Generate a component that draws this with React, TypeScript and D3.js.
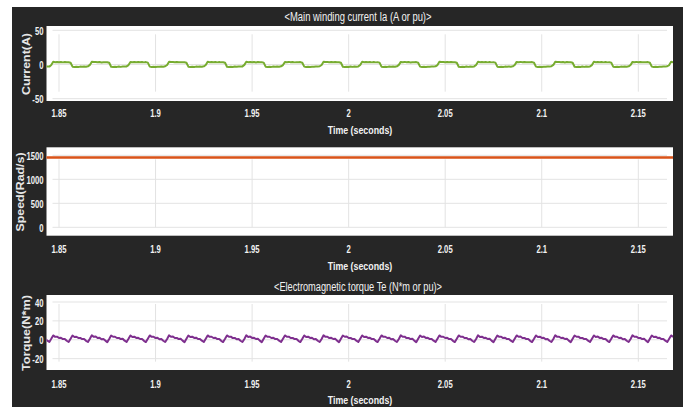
import React from "react";
import * as d3 from "d3";

// Simulation time base shared by the sampled traces (seconds)
const T_START = 1.843;
const T_STEP = 0.001;

const timeTicks = [1.85, 1.9, 1.95, 2, 2.05, 2.1, 2.15];
const timeTickLabels = ["1.85", "1.9", "1.95", "2", "2.05", "2.1", "2.15"];

// Main winding current Ia (A), 1 ms samples
const currentA: number[] = [
  -3.0, -2.8, -3.1,
  -0.8, 3.9, 3.4, 3.7, 3.3, 3.6, 3.1, 3.5, 3.2, 3.4, 2.6, -3.2, -3.7, -3.3, -3.6, -3.1, -3.4, -2.9, -3.2, -2.7,
  -0.6, 4.0, 3.5, 3.6, 3.2, 3.7, 3.0, 3.4, 3.3, 3.3, 2.5, -3.3, -3.6, -3.2, -3.5, -3.0, -3.5, -3.0, -3.1, -2.8,
  -0.9, 3.8, 3.3, 3.8, 3.4, 3.5, 3.2, 3.6, 3.1, 3.5, 2.7, -3.1, -3.8, -3.4, -3.6, -3.2, -3.3, -2.8, -3.2, -2.6,
  -0.7, 3.9, 3.5, 3.7, 3.2, 3.6, 3.2, 3.4, 3.3, 3.4, 2.6, -3.2, -3.6, -3.3, -3.7, -3.1, -3.4, -3.0, -3.2, -2.7,
  -0.8, 4.0, 3.4, 3.6, 3.3, 3.7, 3.1, 3.5, 3.1, 3.3, 2.5, -3.3, -3.7, -3.2, -3.6, -3.0, -3.4, -2.9, -3.1, -2.8,
  -0.6, 3.9, 3.3, 3.7, 3.4, 3.6, 3.0, 3.6, 3.2, 3.4, 2.7, -3.2, -3.8, -3.3, -3.5, -3.1, -3.3, -2.9, -3.2, -2.7,
  -0.9, 3.8, 3.4, 3.8, 3.2, 3.5, 3.1, 3.4, 3.3, 3.5, 2.6, -3.1, -3.7, -3.4, -3.6, -3.2, -3.4, -3.0, -3.1, -2.6,
  -0.7, 4.0, 3.5, 3.6, 3.3, 3.7, 3.2, 3.5, 3.2, 3.3, 2.5, -3.3, -3.6, -3.2, -3.7, -3.0, -3.5, -2.8, -3.2, -2.8,
  -0.8, 3.9, 3.3, 3.7, 3.4, 3.6, 3.1, 3.6, 3.1, 3.4, 2.7, -3.2, -3.7, -3.3, -3.5, -3.1, -3.3, -2.9, -3.3, -2.7,
  -0.6, 3.8, 3.4, 3.8, 3.2, 3.5, 3.0, 3.4, 3.3, 3.5, 2.6, -3.1, -3.8, -3.4, -3.6, -3.2, -3.4, -3.0, -3.1, -2.6,
  -0.9, 4.0, 3.5, 3.6, 3.3, 3.7, 3.2, 3.5, 3.2, 3.3, 2.5, -3.3, -3.6, -3.2, -3.6, -3.0, -3.5, -2.9, -3.2, -2.8,
  -0.7, 3.9, 3.4, 3.7, 3.4, 3.6, 3.1, 3.6, 3.1, 3.4, 2.7, -3.2, -3.7, -3.3, -3.7, -3.1, -3.3, -2.8, -3.2, -2.7,
  -0.8, 3.8, 3.3, 3.8, 3.2, 3.5, 3.2, 3.4, 3.3, 3.5, 2.6, -3.1, -3.8, -3.4, -3.5, -3.2, -3.4, -3.0, -3.1, -2.6,
  -0.6, 4.0, 3.5, 3.6, 3.3, 3.7, 3.0, 3.5, 3.2, 3.3, 2.5, -3.3, -3.6, -3.2, -3.6, -3.0, -3.5, -2.9, -3.3, -2.8,
  -0.9, 3.9, 3.4, 3.7, 3.4, 3.6, 3.1, 3.6, 3.1, 3.4, 2.7, -3.2, -3.7, -3.3, -3.7, -3.1, -3.3, -2.9, -3.2, -2.7,
  -0.7, 3.8, 3.3, 3.8, 3.2, 3.5, 3.2, 3.4, 3.3, 3.5, 2.6, -3.1, -3.8, -3.4, -3.5, -3.2, -3.4, -2.8, -3.1, -2.6,
  -0.8, 3.9, 3.4,
];

// Rotor speed (Rad/s), 10 ms samples
const SPEED_STEP = 0.01;
const speedRad: number[] = [
  1455, 1456, 1455, 1454, 1455, 1456, 1455, 1455, 1454, 1455, 1456,
  1455, 1455, 1454, 1455, 1456, 1455, 1454, 1455, 1455, 1456, 1455,
  1454, 1455, 1456, 1455, 1455, 1454, 1455, 1456, 1455, 1455, 1455, 1454,
];

// Electromagnetic torque Te (N*m), 1 ms samples
const torqueNm: number[] = [
  0.6, -0.9, -2.3, 1.0,
  4.6, 3.1, 3.3, 1.9, 2.1, 0.7, 0.9, -1.0, -2.4, 1.0,
  4.5, 3.0, 3.2, 2.0, 2.0, 0.8, 0.8, -1.1, -2.3, 1.1,
  4.7, 3.1, 3.4, 1.8, 2.2, 0.6, 0.9, -0.9, -2.5, 0.9,
  4.5, 3.2, 3.2, 1.9, 2.0, 0.7, 1.0, -1.0, -2.3, 1.0,
  4.6, 3.0, 3.3, 2.0, 2.1, 0.8, 0.8, -1.1, -2.4, 1.1,
  4.6, 3.1, 3.2, 1.8, 2.1, 0.6, 0.9, -1.0, -2.4, 0.9,
  4.7, 3.2, 3.4, 1.9, 2.0, 0.7, 1.0, -0.9, -2.5, 1.0,
  4.5, 3.0, 3.3, 2.0, 2.2, 0.8, 0.8, -1.0, -2.3, 1.1,
  4.6, 3.1, 3.2, 1.9, 2.1, 0.7, 0.9, -1.1, -2.4, 1.0,
  4.6, 3.2, 3.3, 1.8, 2.0, 0.6, 0.9, -1.0, -2.4, 0.9,
  4.7, 3.0, 3.4, 2.0, 2.1, 0.8, 1.0, -0.9, -2.5, 1.0,
  4.5, 3.1, 3.2, 1.9, 2.2, 0.7, 0.8, -1.0, -2.3, 1.1,
  4.6, 3.2, 3.3, 1.9, 2.0, 0.7, 0.9, -1.1, -2.4, 1.0,
  4.6, 3.0, 3.3, 2.0, 2.1, 0.6, 0.9, -1.0, -2.4, 0.9,
  4.7, 3.1, 3.2, 1.8, 2.1, 0.8, 1.0, -0.9, -2.5, 1.0,
  4.5, 3.2, 3.4, 1.9, 2.0, 0.7, 0.8, -1.0, -2.3, 1.1,
  4.6, 3.0, 3.3, 2.0, 2.2, 0.7, 0.9, -1.1, -2.4, 1.0,
  4.6, 3.1, 3.2, 1.9, 2.1, 0.6, 0.9, -1.0, -2.4, 0.9,
  4.7, 3.2, 3.3, 1.8, 2.0, 0.8, 1.0, -0.9, -2.5, 1.0,
  4.5, 3.0, 3.4, 2.0, 2.1, 0.7, 0.8, -1.0, -2.3, 1.1,
  4.6, 3.1, 3.2, 1.9, 2.2, 0.7, 0.9, -1.1, -2.4, 1.0,
  4.6, 3.2, 3.3, 1.9, 2.0, 0.6, 0.9, -1.0, -2.4, 0.9,
  4.7, 3.0, 3.3, 2.0, 2.1, 0.8, 1.0, -0.9, -2.5, 1.0,
  4.5, 3.1, 3.2, 1.8, 2.1, 0.7, 0.8, -1.0, -2.3, 1.1,
  4.6, 3.2, 3.4, 1.9, 2.0, 0.7, 0.9, -1.1, -2.4, 1.0,
  4.6, 3.0, 3.3, 2.0, 2.2, 0.6, 0.9, -1.0, -2.4, 0.9,
  4.7, 3.1, 3.2, 1.9, 2.1, 0.8, 1.0, -0.9, -2.5, 1.0,
  4.5, 3.2, 3.3, 1.8, 2.0, 0.7, 0.8, -1.0, -2.3, 1.1,
  4.6, 3.0, 3.4, 2.0, 2.1, 0.7, 0.9, -1.1, -2.4, 1.0,
  4.6, 3.1, 3.2, 1.9, 2.2, 0.6, 0.9, -1.0, -2.4, 0.9,
  4.7, 3.2, 3.3, 1.9, 2.0, 0.8, 1.0, -0.9, -2.5, 1.0,
  4.5, 3.0, 3.3, 2.0, 2.1, 0.7, 0.8, -1.0, -2.3, 1.1,
  4.6, 3.1,
];

const currentTicks = [50, 0, -50];
const speedTicks = [1500, 1000, 500, 0];
const torqueTicks = [40, 20, 0, -20];

const W = 683;
const H = 407;
const PLOT_LEFT = 46.5;
const PLOT_RIGHT = 673;
const BG = "#262626";
const GRID = "#e3e3e3";
const TEXT = "#f2f2f2";
const SANS = "'Liberation Sans', Arial, sans-serif";
const NARROW_X = 0.7; // horizontal squeeze for the condensed scope lettering

const xScale = d3.scaleLinear().domain([1.84353, 2.16797]).range([PLOT_LEFT, PLOT_RIGHT]);

type PanelProps = {
  id: string;
  top: number;
  bottom: number;
  yDomain: [number, number];
  yTicks: number[];
  values: number[];
  step: number;
  color: string;
  lineWidth: number;
  yLabel: string;
  yLabelX: number;
  yLabelLen: number;
  title?: string;
  titleLen?: number;
  titleY?: number;
  tickY: number;
  xLabelY: number;
  vGridInset: [number, number];
};

function NarrowText(props: {
  x: number; y: number; anchor: "start" | "middle" | "end"; size: number; bold?: boolean; children: string;
}) {
  return (
    <text
      transform={`translate(${props.x},${props.y}) scale(${NARROW_X},1)`}
      fill={TEXT} fontFamily={SANS} fontWeight={props.bold ? "bold" : "normal"}
      fontSize={props.size} textAnchor={props.anchor} dominantBaseline="central">
      {props.children}
    </text>
  );
}

function Panel(p: PanelProps) {
  const y = d3.scaleLinear().domain(p.yDomain).range([p.bottom, p.top]);
  const pts = p.values.map((v, i) => [T_START + i * p.step, v] as [number, number]);
  const line = d3
    .line<[number, number]>()
    .x((d) => xScale(d[0]))
    .y((d) => y(d[1]));
  const gx0 = PLOT_LEFT + 6;
  const gx1 = PLOT_RIGHT - 6;
  const vTop = y(d3.max(p.yTicks)!) + p.vGridInset[0];
  const vBot = y(d3.min(p.yTicks)!) - p.vGridInset[1];
  const midX = 360;
  const clipId = "clip-" + p.id;
  return (
    <g>
      <defs>
        <clipPath id={clipId}>
          <rect x={PLOT_LEFT} y={p.top} width={PLOT_RIGHT - PLOT_LEFT} height={p.bottom - p.top} />
        </clipPath>
      </defs>
      {p.title && (
        <text x={midX - 2} y={p.titleY} fill={TEXT} fontFamily={SANS} fontSize={12}
          textAnchor="middle" dominantBaseline="central" textLength={p.titleLen}
          lengthAdjust="spacingAndGlyphs">
          {p.title}
        </text>
      )}
      <rect x={PLOT_LEFT} y={p.top} width={PLOT_RIGHT - PLOT_LEFT} height={p.bottom - p.top} fill="#ffffff" />
      {p.yTicks.map((t) => (
        <line key={"h" + t} x1={gx0} x2={gx1} y1={y(t)} y2={y(t)} stroke={GRID} strokeWidth={1} />
      ))}
      {timeTicks.map((t) => (
        <line key={"v" + t} x1={xScale(t)} x2={xScale(t)} y1={vTop} y2={vBot} stroke={GRID} strokeWidth={1} />
      ))}
      <path d={line(pts) ?? ""} fill="none" stroke={p.color} strokeWidth={p.lineWidth} strokeLinejoin="round"
        clipPath={`url(#${clipId})`} />
      {p.yTicks.map((t) => (
        <NarrowText key={"yl" + t} x={43.5} y={y(t) + 0.5} anchor="end" size={11} bold>
          {String(t)}
        </NarrowText>
      ))}
      {timeTicks.map((t, i) => (
        <NarrowText key={"xl" + t} x={xScale(t)} y={p.tickY} anchor="middle" size={11} bold>
          {timeTickLabels[i]}
        </NarrowText>
      ))}
      <text x={midX} y={p.xLabelY} fill={TEXT} fontFamily={SANS} fontWeight="bold" fontSize={11.5}
        textAnchor="middle" dominantBaseline="central" textLength={64.5} lengthAdjust="spacingAndGlyphs">
        Time (seconds)
      </text>
      <text
        transform={`translate(${p.yLabelX},${(p.top + p.bottom) / 2 + 0.5}) rotate(-90)`}
        fill="#e6e6e6" fontFamily={SANS} fontWeight="bold" fontSize={11}
        textAnchor="middle" dominantBaseline="central" textLength={p.yLabelLen} lengthAdjust="spacingAndGlyphs">
        {p.yLabel}
      </text>
    </g>
  );
}

export default function App() {
  return (
    <svg width={W} height={H} viewBox={`0 0 ${W} ${H}`}
      style={{ position: "absolute", left: 0, top: 0, display: "block", background: "#ffffff" }}>
      <rect x={12} y={7} width={W - 12} height={H - 7} fill={BG} />
      <Panel
        id="ia" top={26} bottom={101} yDomain={[-53.4, 56.3]} yTicks={currentTicks}
        values={currentA} step={T_STEP} color="#77ac30" lineWidth={2}
        yLabel="Current(A)" yLabelX={26} yLabelLen={62}
        title="<Main winding current Ia (A or pu)>" titleLen={147} titleY={17}
        tickY={113} xLabelY={130} vGridInset={[4, 7]}
      />
      <Panel
        id="wm" top={147.3} bottom={235.7} yDomain={[-175, 1667]} yTicks={speedTicks}
        values={speedRad} step={SPEED_STEP} color="#d95319" lineWidth={2.5}
        yLabel="Speed(Rad/s)" yLabelX={20} yLabelLen={79}
        tickY={248.5} xLabelY={266} vGridInset={[4, 0]}
      />
      <Panel
        id="te" top={295} bottom={370} yDomain={[-32, 47.4]} yTicks={torqueTicks}
        values={torqueNm} step={T_STEP} color="#7e2f8e" lineWidth={2}
        yLabel="Torque(N*m)" yLabelX={26} yLabelLen={76}
        title="<Electromagnetic torque Te (N*m or pu)>" titleLen={168} titleY={287}
        tickY={383.5} xLabelY={400} vGridInset={[2, -3]}
      />
    </svg>
  );
}
